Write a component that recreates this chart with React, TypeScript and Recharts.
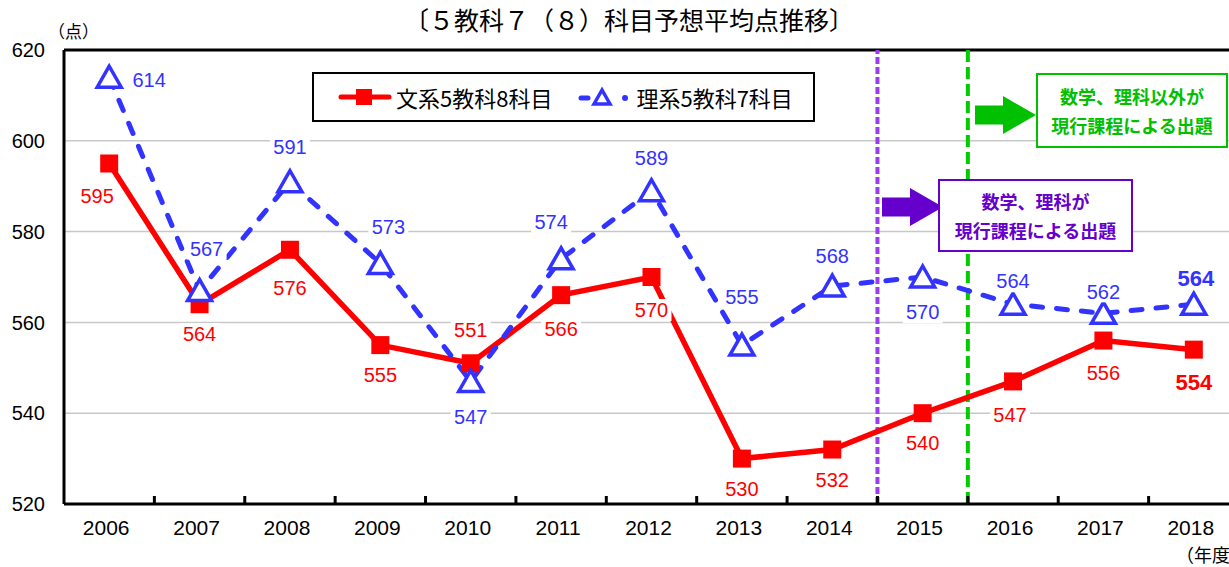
import React from "react";
import { LineChart, Line, XAxis, YAxis, CartesianGrid, ReferenceLine, LabelList } from "recharts";

const years = ["2006", "2007", "2008", "2009", "2010", "2011", "2012", "2013", "2014", "2015", "2016", "2017", "2018"];
const bunkei = [595, 564, 576, 555, 551, 566, 570, 530, 532, 540, 547, 556, 554];
const rikei = [614, 567, 591, 573, 547, 574, 589, 555, 568, 570, 564, 562, 564];
const yTicks = [520, 540, 560, 580, 600, 620];

const rows = years.map((year, i) => ({ year, bunkei: bunkei[i], rikei: rikei[i] }));

// label nudges [dx, dy] from each point
const bunkeiNudge = [[-12, 32], [0, 30], [0, 38], [0, 30], [0, -33], [0, 34], [0, 33], [0, 30], [0, 30], [0, 30], [-3, 33], [0, 32], [0, 32]];
const rikeiNudge = [[40, 3], [7, -42], [0, -35], [8, -37], [0, 35], [-10, -37], [0, -33], [0, -48], [0, -30], [0, 35], [0, -23], [0, -22], [2, -26]];

const RED = "#ff0000";
const BLUE = "#3333ff";
const GREEN = "#00c000";
const PURPLE = "#6600cc";
const FONT = "'Liberation Sans', Arial, 'Noto Sans CJK JP', sans-serif";
const JP = "'Noto Sans CJK JP', 'Liberation Sans', sans-serif";

const CHART_W = 1260;
const X_H = 30;
const MARGIN = { top: 50, right: 21, bottom: 567 - 504 - X_H, left: 0 };
const Y_W = 64;
const BAND = (CHART_W - MARGIN.right - MARGIN.left - Y_W) / years.length;

function YearTick(props: any) {
  const { x, y, payload, index } = props;
  return (
    <g>
      {index < years.length - 1 && (
        <line x1={x + BAND / 2} x2={x + BAND / 2} y1={y - 8} y2={y} stroke="#000" strokeWidth={3} />
      )}
      <text x={x - 3} y={y + 31} textAnchor="middle" fontSize={21} fill="#000" fontFamily={FONT}>
        {payload.value}
      </text>
    </g>
  );
}

const makeLabel = (nudge: number[][], color: string) => (props: any) => {
  const { x, y, value, index } = props;
  const [dx, dy] = nudge[index];
  const last = index === years.length - 1;
  const w = last ? 44 : 40;
  return (
    <g>
      <rect x={x + dx - w / 2} y={y + dy - 11} width={w} height={22} fill="#fff" />
      <text
        x={x + dx}
        y={y + dy}
        dy="0.36em"
        textAnchor="middle"
        fontSize={last ? 22 : 20}
        fontWeight={last ? 700 : 400}
        fill={color}
        fontFamily={FONT}
      >
        {value}
      </text>
    </g>
  );
};

const squareDot = (p: any) => (
  <rect key={`sq-${p.index}`} x={p.cx - 9} y={p.cy - 9} width={18} height={18} fill={RED} />
);

const triDot = (p: any) => (
  <polygon
    key={`tr-${p.index}`}
    points={`${p.cx},${p.cy - 11} ${p.cx - 12},${p.cy + 10} ${p.cx + 12},${p.cy + 10}`}
    fill="#fff"
    stroke={BLUE}
    strokeWidth={3.5}
    strokeLinejoin="miter"
  />
);

function Arrow({ x, y, color }: { x: number; y: number; color: string }) {
  return (
    <svg style={{ position: "absolute", left: x, top: y - 19, overflow: "visible" }} width={62} height={38}>
      <polygon points="0,9.5 28,9.5 28,0 61,19 28,38 28,28.5 0,28.5" fill={color} />
    </svg>
  );
}

function NoteBox(props: { left: number; top: number; width: number; height: number; color: string; lines: string[] }) {
  const { left, top, width, height, color, lines } = props;
  return (
    <div
      style={{
        position: "absolute",
        left,
        top,
        width,
        height,
        boxSizing: "border-box",
        border: `2px solid ${color}`,
        background: "#fff",
        color,
        fontFamily: JP,
        fontWeight: 700,
        fontSize: 18,
        lineHeight: "29px",
        textAlign: "center",
        display: "flex",
        flexDirection: "column",
        justifyContent: "center",
      }}
    >
      {lines.map((l) => (
        <div key={l}>{l}</div>
      ))}
    </div>
  );
}

export default function App() {
  return (
    <div
      style={{
        position: "absolute",
        left: 0,
        top: 0,
        width: 1229,
        height: 567,
        overflow: "hidden",
        background: "#fff",
        fontFamily: FONT,
      }}
    >
      <div
        style={{
          position: "absolute",
          left: 0,
          width: 1258,
          top: 4,
          textAlign: "center",
          fontFamily: JP,
          fontSize: 25,
          lineHeight: "30px",
          color: "#000",
        }}
      >
        〔５教科７（８）科目予想平均点推移〕
      </div>
      <div style={{ position: "absolute", left: 48, top: 18, fontFamily: JP, fontSize: 17, color: "#000" }}>（点）</div>
      <div style={{ position: "absolute", left: 1176, top: 541, fontFamily: JP, fontSize: 18, color: "#000", whiteSpace: "nowrap" }}>（年度）</div>

      <div style={{ position: "absolute", left: 0, top: 0 }}>
        <LineChart width={CHART_W} height={567} data={rows} margin={MARGIN}>
          <CartesianGrid vertical={false} stroke="#c8c8c8" strokeWidth={1.5} />
          <XAxis
            dataKey="year"
            scale="band"
            height={X_H}
            interval={0}
            tickLine={false}
            tickSize={0}
            tickMargin={0}
            tick={<YearTick />}
            axisLine={{ stroke: "#000", strokeWidth: 3 }}
          />
          <YAxis
            domain={[520, 620]}
            ticks={yTicks}
            width={Y_W}
            tickLine={false}
            tickSize={0}
            tickMargin={19}
            axisLine={{ stroke: "#000", strokeWidth: 3 }}
            tick={{ fontSize: 20, fill: "#000", fontFamily: FONT }}
          />
          <ReferenceLine y={620} stroke="#000" strokeWidth={3} />
          <ReferenceLine x="2015" position="start" stroke="#9a3cf0" strokeWidth={4} strokeDasharray="7 3" />
          <ReferenceLine x="2016" position="start" stroke="#00cc00" strokeWidth={4} strokeDasharray="12 5" />
          <Line
            dataKey="bunkei"
            stroke={RED}
            strokeWidth={5.5}
            dot={squareDot}
            activeDot={false}
            isAnimationActive={false}
          >
            <LabelList dataKey="bunkei" content={makeLabel(bunkeiNudge, RED)} />
          </Line>
          <Line
            dataKey="rikei"
            stroke={BLUE}
            strokeWidth={5}
            strokeDasharray="11 14"
            strokeLinecap="round"
            dot={triDot}
            activeDot={false}
            isAnimationActive={false}
          >
            <LabelList dataKey="rikei" content={makeLabel(rikeiNudge, BLUE)} />
          </Line>
        </LineChart>
      </div>

      {/* legend */}
      <div
        style={{
          position: "absolute",
          left: 312,
          top: 72,
          width: 503,
          height: 50,
          boxSizing: "border-box",
          border: "2px solid #000",
          background: "#fff",
          display: "flex",
          alignItems: "center",
          fontFamily: JP,
          fontSize: 22,
          color: "#000",
        }}
      >
        <svg width={54} height={20} style={{ marginLeft: 24 }}>
          <line x1={3} x2={51} y1={10} y2={10} stroke={RED} strokeWidth={5} strokeLinecap="round" />
          <rect x={18} y={2} width={16} height={16} fill={RED} />
        </svg>
        <span style={{ marginLeft: 4 }}>文系5教科8科目</span>
        <svg width={56} height={22} style={{ marginLeft: 26 }}>
          <line x1={3} x2={10} y1={12} y2={12} stroke={BLUE} strokeWidth={5} strokeLinecap="round" />
          <polygon points="24,4 16,18 32,18" fill="#fff" stroke={BLUE} strokeWidth={3.5} />
          <circle cx={47} cy={12} r={3} fill={BLUE} />
        </svg>
        <span style={{ marginLeft: 2 }}>理系5教科7科目</span>
      </div>

      <Arrow x={975} y={115} color={GREEN} />
      <NoteBox left={1036} top={73} width={192} height={75} color={GREEN} lines={["数学、理科以外が", "現行課程による出題"]} />
      <Arrow x={882} y={207} color={PURPLE} />
      <NoteBox left={938} top={179} width={195} height={73} color={PURPLE} lines={["数学、理科が", "現行課程による出題"]} />
    </div>
  );
}
